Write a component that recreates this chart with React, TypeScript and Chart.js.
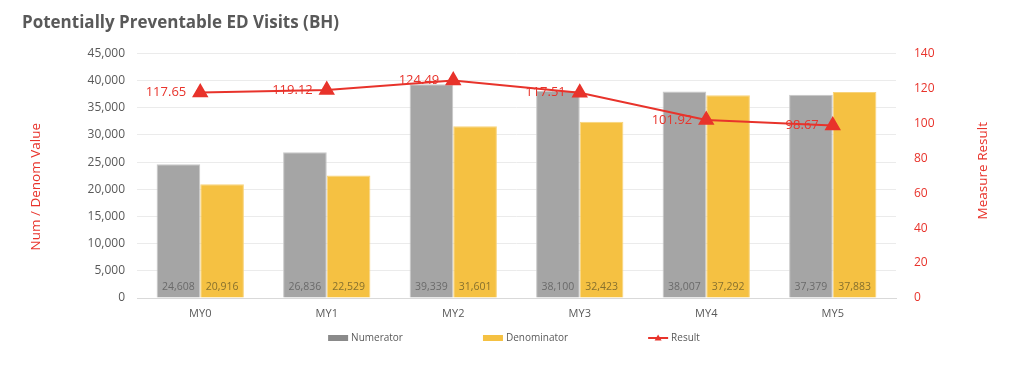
import React, { useEffect, useRef } from "react";
import { Chart, registerables } from "chart.js";

Chart.register(...registerables);

const categories = ["MY0", "MY1", "MY2", "MY3", "MY4", "MY5"];
const numerator = [24608, 26836, 39339, 38100, 38007, 37379];
const denominator = [20916, 22529, 31601, 32423, 37292, 37883];
const result = [117.65, 119.12, 124.49, 117.51, 101.92, 98.67];

const FONT = "'Open Sans', 'Noto Sans', sans-serif";
const GRAY = "#A5A5A5";
const YELLOW = "#F5C142";
const RED = "#E8332B";

const labelsPlugin = {
  id: "customLabels",
  afterDatasetsDraw(chart: any) {
    const ctx = chart.ctx;
    const area = chart.chartArea;
    ctx.save();
    chart.data.datasets.forEach((ds: any, i: number) => {
      const meta = chart.getDatasetMeta(i);
      meta.data.forEach((el: any, j: number) => {
        const v = ds.data[j];
        if (ds.type === "line") {
          ctx.font = `13px ${FONT}`;
          ctx.fillStyle = RED;
          ctx.textAlign = "right";
          ctx.textBaseline = "middle";
          ctx.fillText(v.toFixed(2), el.x - 14, el.y);
        } else {
          ctx.font = `10.5px ${FONT}`;
          ctx.fillStyle = i === 1 ? "#6A6A6A" : "#86702E";
          ctx.textAlign = "center";
          ctx.textBaseline = "middle";
          ctx.fillText(v.toLocaleString("en-US"), el.x, area.bottom - 11);
        }
      });
    });
    ctx.restore();
  },
  afterDraw(chart: any) {
    const ctx = chart.ctx;
    const area = chart.chartArea;
    ctx.save();
    // axis titles
    ctx.font = `13.5px ${FONT}`;
    ctx.fillStyle = RED;
    ctx.textAlign = "center";
    ctx.textBaseline = "middle";
    ctx.save();
    ctx.translate(36, (area.top + area.bottom) / 2 + 11);
    ctx.rotate(-Math.PI / 2);
    ctx.fillText("Num / Denom Value", 0, 0);
    ctx.restore();
    ctx.save();
    ctx.translate(983, (area.top + area.bottom) / 2 - 5);
    ctx.rotate(-Math.PI / 2);
    ctx.fillText("Measure Result", 0, 0);
    ctx.restore();

    // legend
    ctx.font = `10px ${FONT}`;
    ctx.textBaseline = "middle";
    const items = [
      { text: "Numerator", kind: "box", color: "#8A8A8A" },
      { text: "Denominator", kind: "box", color: YELLOW },
      { text: "Result", kind: "line", color: RED },
    ];
    const boxW = 20;
    const gapText = 3;
    const gapItem = 80;
    const widths = items.map((it) => boxW + gapText + ctx.measureText(it.text).width);
    const total = widths.reduce((a, b) => a + b, 0) + gapItem * (items.length - 1);
    let x = chart.width / 2 + 2 - total / 2;
    const y = 338;
    items.forEach((it, k) => {
      if (it.kind === "box") {
        ctx.fillStyle = it.color;
        ctx.fillRect(x, y - 3, boxW, 6);
      } else {
        ctx.strokeStyle = it.color;
        ctx.lineWidth = 2;
        ctx.beginPath();
        ctx.moveTo(x, y);
        ctx.lineTo(x + boxW, y);
        ctx.stroke();
        ctx.fillStyle = it.color;
        ctx.beginPath();
        ctx.moveTo(x + boxW / 2, y - 3.5);
        ctx.lineTo(x + boxW / 2 + 3.5, y + 2.5);
        ctx.lineTo(x + boxW / 2 - 3.5, y + 2.5);
        ctx.closePath();
        ctx.fill();
      }
      ctx.fillStyle = "#595959";
      ctx.textAlign = "left";
      ctx.fillText(it.text, x + boxW + gapText, y);
      x += widths[k] + gapItem;
    });
    ctx.restore();
  },
};

export default function App() {
  const ref = useRef<HTMLCanvasElement>(null);
  useEffect(() => {
    const chart = new Chart(ref.current!, {
      type: "bar",
      data: {
        labels: categories,
        datasets: [
          {
            type: "line",
            label: "Result",
            data: result,
            yAxisID: "y1",
            borderColor: RED,
            backgroundColor: RED,
            borderWidth: 2,
            pointStyle: "triangle",
            pointRadius: 7.5,
            pointBackgroundColor: RED,
            pointBorderColor: RED,
            order: 0,
          } as any,
          {
            type: "bar",
            label: "Numerator",
            data: numerator,
            yAxisID: "y",
            backgroundColor: GRAY,
            borderColor: "#C8C8C8",
            borderWidth: 1,
            order: 1,
          },
          {
            type: "bar",
            label: "Denominator",
            data: denominator,
            yAxisID: "y",
            backgroundColor: YELLOW,
            borderColor: "#F8D37A",
            borderWidth: 1,
            order: 1,
          },
        ],
      },
      options: {
        responsive: false,
        animation: false,
        layout: { padding: { left: 22, right: 35, top: 0, bottom: 0 } },
        datasets: { bar: { barPercentage: 1, categoryPercentage: 0.69 } } as any,
        plugins: {
          legend: { display: false },
          tooltip: { enabled: false },
          title: {
            display: true,
            text: "Potentially Preventable ED Visits (BH)",
            align: "start",
            color: "#595959",
            font: { family: FONT, size: 17, weight: "bold" },
            padding: { top: 13, bottom: 20 },
          },
        },
        scales: {
          x: {
            grid: { display: false },
            border: { color: "#D9D9D9", width: 1 },
            ticks: { color: "#595959", font: { family: FONT, size: 11 }, padding: 1 },
            afterFit(scale: any) {
              scale.height = 81;
            },
          },
          y: {
            position: "left",
            min: 0,
            max: 45000,
            ticks: {
              stepSize: 5000,
              color: "#595959",
              font: { family: FONT, size: 12 },
              padding: 12,
              callback: (v: any) => Number(v).toLocaleString("en-US"),
            },
            grid: { color: "#EBEBEB", drawTicks: false },
            border: { display: false },
            afterFit(scale: any) {
              scale.width = 115;
            },
          },
          y1: {
            position: "right",
            min: 0,
            max: 140,
            ticks: {
              stepSize: 20,
              color: RED,
              font: { family: FONT, size: 12 },
              padding: 10,
            },
            grid: { display: false },
            border: { display: false },
            afterFit(scale: any) {
              scale.width = 93;
            },
          },
        },
      },
      plugins: [labelsPlugin],
    });
    return () => chart.destroy();
  }, []);
  return (
    <div style={{ position: "fixed", left: 0, top: 0, width: 1024, height: 379, background: "#fff" }}>
      <canvas ref={ref} width={1024} height={379} style={{ width: 1024, height: 379 }} />
    </div>
  );
}
